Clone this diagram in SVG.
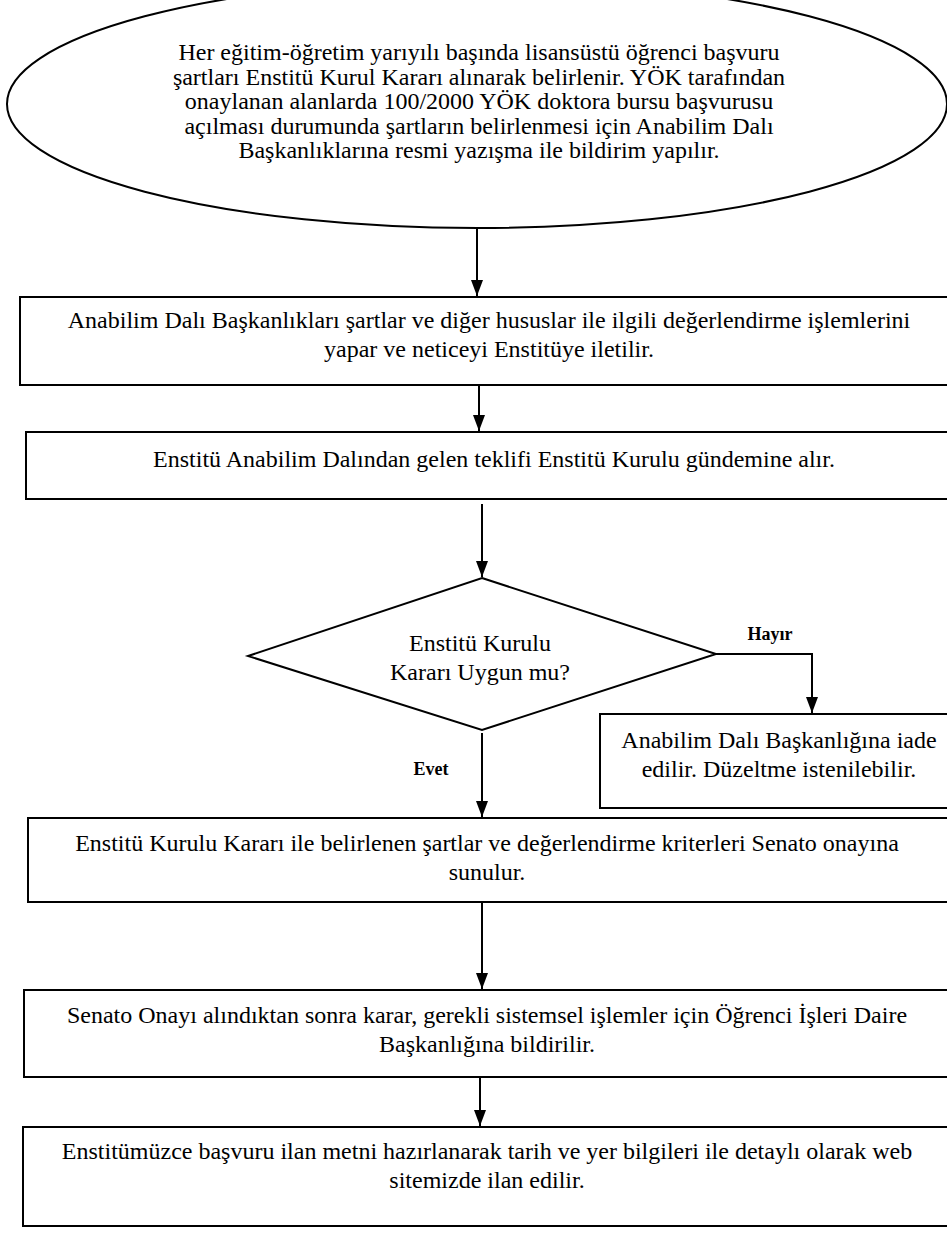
<svg xmlns="http://www.w3.org/2000/svg" width="947" height="1236" viewBox="0 0 947 1236">
<style>
.s{fill:#fff;stroke:#000;stroke-width:2}
.t{font-family:"Liberation Serif","Times New Roman",serif;font-size:24px;fill:#000;text-anchor:middle}
.b{font-family:"Liberation Serif","Times New Roman",serif;font-size:18px;font-weight:bold;fill:#000;text-anchor:middle}
.c{fill:none;stroke:#000;stroke-width:2}
</style>
<defs>
<marker id="a" viewBox="0 0 16 12" refX="16" refY="6" markerWidth="16" markerHeight="12" markerUnits="userSpaceOnUse" orient="auto">
<path d="M0,0 L16,6 L0,12 z" fill="#000"/>
</marker>
</defs>
<rect width="947" height="1236" fill="#fff"/>
<g id="start">
<ellipse class="s" cx="477" cy="104" rx="470" ry="124"/>
<text class="t" x="479" y="60">Her eğitim-öğretim yarıyılı başında lisansüstü öğrenci başvuru</text>
<text class="t" x="479" y="85">şartları Enstitü Kurul Kararı alınarak belirlenir. YÖK tarafından</text>
<text class="t" x="479" y="109">onaylanan alanlarda 100/2000 YÖK doktora bursu başvurusu</text>
<text class="t" x="479" y="134">açılması durumunda şartların belirlenmesi için Anabilim Dalı</text>
<text class="t" x="479" y="158">Başkanlıklarına resmi yazışma ile bildirim yapılır.</text>
</g>
<g id="box1">
<rect class="s" x="20" y="297" width="935" height="88"/>
<text class="t" x="489" y="328">Anabilim Dalı Başkanlıkları şartlar ve diğer hususlar ile ilgili değerlendirme işlemlerini</text>
<text class="t" x="489" y="357">yapar ve neticeyi Enstitüye iletilir.</text>
</g>
<g id="box2">
<rect class="s" x="26" y="432" width="929" height="67"/>
<text class="t" x="494" y="467">Enstitü Anabilim Dalından gelen teklifi Enstitü Kurulu gündemine alır.</text>
</g>
<g id="decision">
<polygon class="s" points="482,578 716,654 482,730 248,656"/>
<text class="t" x="480" y="651">Enstitü Kurulu</text>
<text class="t" x="480" y="680">Kararı Uygun mu?</text>
</g>
<g id="reject">
<rect class="s" x="600" y="714" width="355" height="94"/>
<text class="t" x="779" y="748">Anabilim Dalı Başkanlığına iade</text>
<text class="t" x="779" y="777">edilir. Düzeltme istenilebilir.</text>
</g>
<g id="box3">
<rect class="s" x="28" y="818" width="927" height="84"/>
<text class="t" x="487" y="851">Enstitü Kurulu Kararı ile belirlenen şartlar ve değerlendirme kriterleri Senato onayına</text>
<text class="t" x="487" y="880">sunulur.</text>
</g>
<g id="box4">
<rect class="s" x="24" y="990" width="931" height="87"/>
<text class="t" x="487" y="1023">Senato Onayı alındıktan sonra karar, gerekli sistemsel işlemler için Öğrenci İşleri Daire</text>
<text class="t" x="487" y="1052">Başkanlığına bildirilir.</text>
</g>
<g id="box5">
<rect class="s" x="23" y="1127" width="932" height="99"/>
<text class="t" x="487" y="1159">Enstitümüzce başvuru ilan metni hazırlanarak tarih ve yer bilgileri ile detaylı olarak web</text>
<text class="t" x="487" y="1188">sitemizde ilan edilir.</text>
</g>
<g id="connectors">
<line class="c" x1="477" y1="228" x2="477" y2="296" marker-end="url(#a)"/>
<line class="c" x1="479" y1="385" x2="479" y2="431" marker-end="url(#a)"/>
<line class="c" x1="482" y1="504" x2="482" y2="577" marker-end="url(#a)"/>
<polyline class="c" points="716,654 812,654 812,713" marker-end="url(#a)"/>
<line class="c" x1="482" y1="733" x2="482" y2="817" marker-end="url(#a)"/>
<line class="c" x1="482" y1="902" x2="482" y2="989" marker-end="url(#a)"/>
<line class="c" x1="480" y1="1077" x2="480" y2="1126" marker-end="url(#a)"/>
<text class="b" x="770" y="640">Hayır</text>
<text class="b" x="431" y="775">Evet</text>
</g>
</svg>
